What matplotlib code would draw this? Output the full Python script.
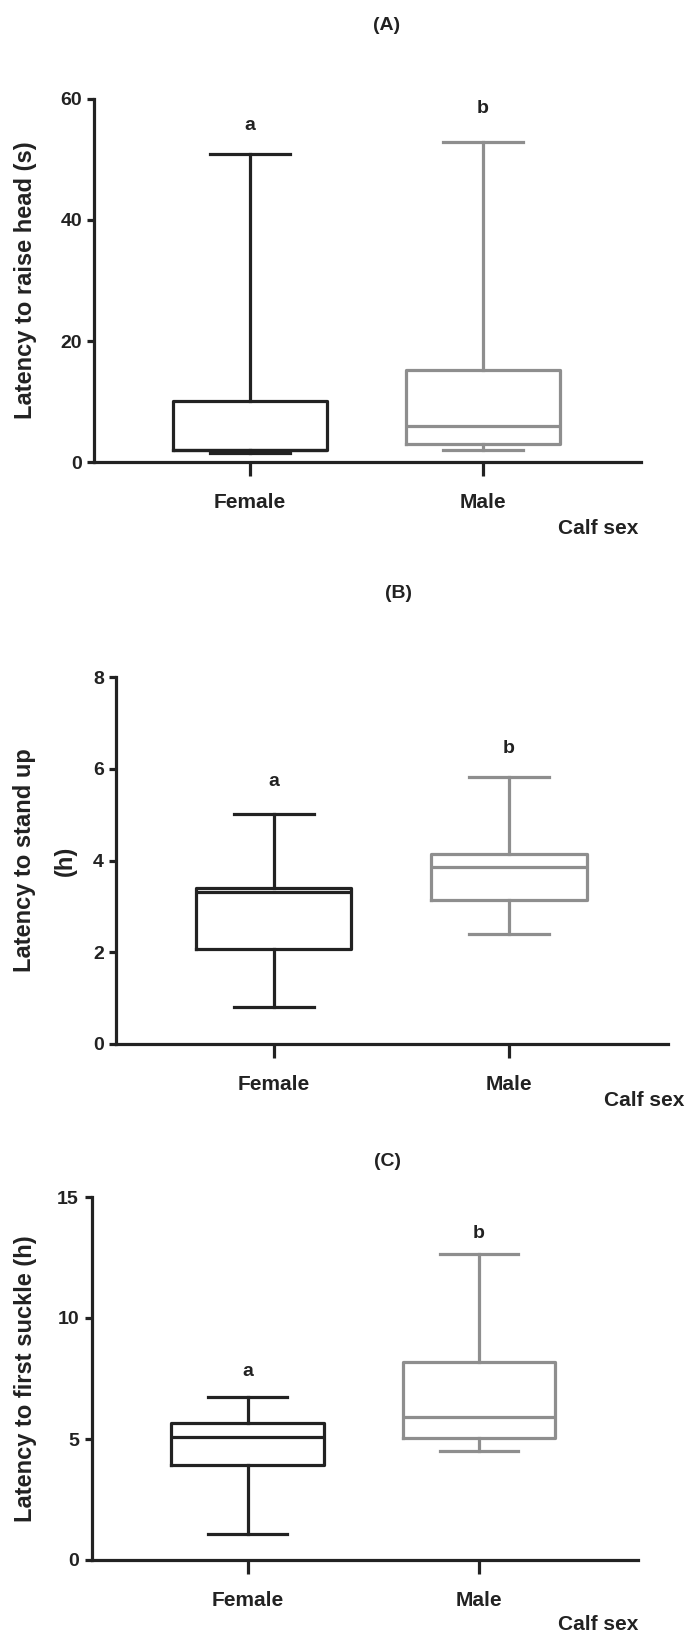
import matplotlib
matplotlib.use('Agg')
import matplotlib.pyplot as plt

plt.rcParams['font.family'] = ['Liberation Sans', 'DejaVu Sans']
plt.rcParams['font.weight'] = 'bold'

groups = ['Female', 'Male']
# whislo, q1, median, q3, whishi
raise_head = [[1.5, 2.0, 2.1, 10.1, 50.8], [2.1, 3.0, 6.0, 15.3, 52.9]]
stand_up = [[0.8, 2.06, 3.32, 3.40, 5.02], [2.40, 3.13, 3.86, 4.14, 5.82]]
suckle = [[1.09, 3.91, 5.08, 5.68, 6.74], [4.49, 5.04, 5.89, 8.19, 12.64]]
sig_letters = ['a', 'b']
raise_letter_y = [55.6, 58.4]
stand_letter_y = [5.72, 6.44]
suckle_letter_y = [7.77, 13.49]
raise_ticks = [0, 20, 40, 60]
stand_ticks = [0, 2, 4, 6, 8]
suckle_ticks = [0, 5, 10, 15]

W, H = 686, 1634
dpi = 100
fig = plt.figure(figsize=(W/dpi, H/dpi), dpi=dpi)
colors = ['#222222', '#8e8e8e']


def px_axes(left, right, top, bottom):
	return fig.add_axes([left/W, 1 - bottom/H, (right-left)/W, (bottom-top)/H])


def panel(ax, stats, letter_y, ticks, ylabel, xlim, lab_kw):
	for i, s in enumerate(stats):
		d = dict(whislo=s[0], q1=s[1], med=s[2], q3=s[3], whishi=s[4], fliers=[])
		lp = dict(color=colors[i], linewidth=2.3)
		ax.bxp([d], positions=[i], widths=0.66, capwidths=0.34, showfliers=False,
			boxprops=lp, whiskerprops=lp, capprops=lp, medianprops=lp,
			manage_ticks=False)
		ax.text(i, letter_y[i], sig_letters[i], ha='center', va='center',
			fontsize=14, fontweight='bold', color='#222222')
	ax.set_ylim(ticks[0], ticks[-1])
	ax.set_yticks(ticks)
	ax.set_xlim(*xlim)
	ax.set_xticks([0, 1])
	ax.set_xticklabels(groups)
	for sp in ['top', 'right']:
		ax.spines[sp].set_visible(False)
	for sp in ['left', 'bottom']:
		ax.spines[sp].set_linewidth(2.3)
		ax.spines[sp].set_color('#222222')
	ax.tick_params(axis='y', length=5, width=2.3, labelsize=14, pad=4, colors='#222222')
	ax.tick_params(axis='x', length=10, width=2.3, labelsize=15, pad=12, colors='#222222')
	ax.set_ylabel(ylabel, fontsize=17, fontweight='bold', color='#222222', **lab_kw)


axA = px_axes(94.5, 641, 98.7, 462.3)
panel(axA, raise_head, raise_letter_y, raise_ticks, 'Latency to raise head (s)',
	(-0.667, 1.678), {})
axB = px_axes(116.5, 668, 677, 1044)
panel(axB, stand_up, stand_letter_y, stand_ticks, 'Latency to stand up\n(h)',
	(-0.667, 1.675), dict(linespacing=2.0))
axC = px_axes(91.5, 637.6, 1197, 1560)
panel(axC, suckle, suckle_letter_y, suckle_ticks, 'Latency to first suckle (h)',
	(-0.675, 1.685), {})

# label centres placed in pixels from the left edge of the figure
axA.yaxis.set_label_coords((26 - 94.5)/546.5, 0.5)
axB.yaxis.set_label_coords((45 - 116.5)/551.5, 0.5)
axC.yaxis.set_label_coords((26 - 91.5)/546.1, 0.5)
for ax in (axA, axB, axC):
	ax.yaxis.label.set_va('center')

for t, x, y in [('(A)', 387, 25), ('(B)', 398, 593), ('(C)', 387, 1162)]:
	fig.text(x/W, 1 - y/H, t, ha='center', va='center', fontsize=14, fontweight='bold', color='#222222')
for x, y in [(638, 528), (684, 1100), (638, 1624)]:
	fig.text(x/W, 1 - y/H, 'Calf sex', ha='right', va='center', fontsize=15, fontweight='bold', color='#222222')

fig.savefig('out.png', dpi=dpi)
